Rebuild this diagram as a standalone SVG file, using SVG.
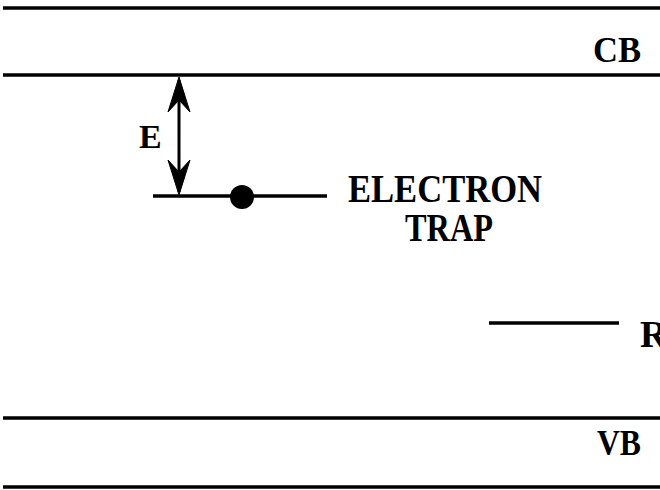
<svg xmlns="http://www.w3.org/2000/svg" width="660" height="490" viewBox="0 0 660 490">
<style>
.lvl{stroke:#000;stroke-width:3.5;fill:none}
.lbl{font-family:"Liberation Serif","Times New Roman",serif;font-weight:bold;fill:#000}
.shaft{stroke:#000;stroke-width:3;fill:none}
.head{fill:#000;stroke:#000;stroke-width:1}
</style>
<rect width="660" height="490" fill="#fff"/>
<g id="cb">
<line class="lvl" x1="3" y1="8" x2="660" y2="8"/>
<line class="lvl" x1="3" y1="75" x2="660" y2="75"/>
<text class="lbl" x="593" y="62" font-size="36" textLength="48" lengthAdjust="spacingAndGlyphs">CB</text>
</g>
<g id="vb">
<line class="lvl" x1="3" y1="418" x2="660" y2="418"/>
<line class="lvl" x1="3" y1="487" x2="660" y2="487"/>
<text class="lbl" x="597" y="455" font-size="36" textLength="44" lengthAdjust="spacingAndGlyphs">VB</text>
</g>
<g id="trap">
<line class="lvl" x1="153" y1="196" x2="327" y2="196"/>
<circle cx="242" cy="197" r="12" fill="#000"/>
<text class="lbl" x="348" y="202" font-size="39" textLength="194" lengthAdjust="spacingAndGlyphs">ELECTRON</text>
<text class="lbl" x="405" y="241" font-size="39" textLength="88" lengthAdjust="spacingAndGlyphs">TRAP</text>
</g>
<g id="r-level">
<line class="lvl" x1="489" y1="323" x2="619" y2="323"/>
<text class="lbl" x="640" y="347" font-size="38">R</text>
</g>
<g id="e-label">
<text class="lbl" x="139" y="148" font-size="34">E</text>
</g>
<g id="connectors">
<line class="shaft" x1="179" y1="80" x2="179" y2="192"/>
<path class="head" d="M179,77 L190,112 L179,100 L168,112 Z"/>
<path class="head" d="M179,195 L190,160 L179,172 L168,160 Z"/>
</g>
</svg>
